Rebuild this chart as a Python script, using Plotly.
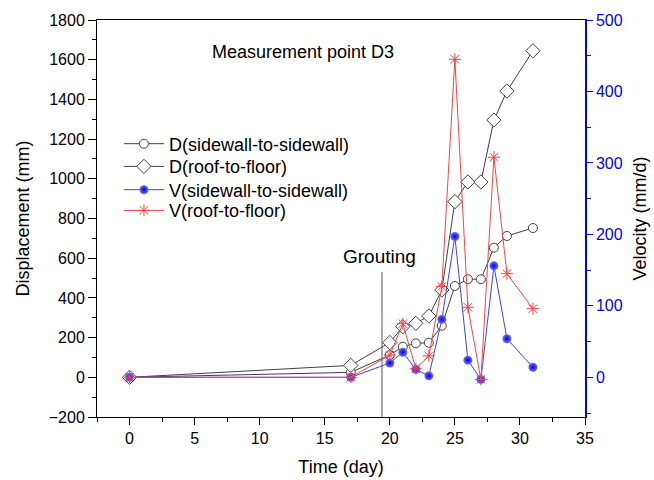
import plotly.graph_objects as go

days = [0, 17, 20, 21, 22, 23, 24, 25, 26, 27, 28, 29, 31]
d_sidewall = [0, 25, 112, 154, 171, 174, 260, 460, 494, 494, 653, 712, 752]
d_roof = [0, 60, 175, 255, 272, 309, 440, 885, 984, 984, 1296, 1442, 1645]
v_sidewall = [0, 0, 20, 35, 11, 2, 81, 197, 24, -3, 156, 54, 14]
v_roof = [0, 0, 31, 75, 12, 30, 127, 445, 98, -3, 308, 145, 96]

names = ["D(sidewall-to-sidewall)", "D(roof-to-floor)",
         "V(sidewall-to-sidewall)", "V(roof-to-floor)"]
grouting_day = 19.4
grouting_top = 530

FONT = "Liberation Sans, Arial, sans-serif"
GREY = "#404040"

fig = go.Figure()
fig.add_trace(go.Scatter(
    x=days, y=d_sidewall, name=names[0], mode="lines+markers", legend="legend",
    line=dict(color=GREY, width=1),
    marker=dict(symbol="circle", size=9, color="white",
                line=dict(color=GREY, width=1))))
fig.add_trace(go.Scatter(
    x=days, y=d_roof, name=names[1], mode="lines+markers", legend="legend2",
    line=dict(color=GREY, width=1),
    marker=dict(symbol="diamond", size=11, color="white",
                line=dict(color=GREY, width=1))))
fig.add_trace(go.Scatter(
    x=days, y=v_sidewall, name=names[2], mode="lines+markers", yaxis="y2",
    legend="legend3",
    line=dict(color="#4040ff", width=1),
    marker=dict(symbol="circle", size=9, color="#7070ff",
                gradient=dict(type="radial", color="#0000e0"),
                line=dict(width=0))))
fig.add_trace(go.Scatter(
    x=days, y=v_roof, name=names[3], mode="lines+markers", yaxis="y2",
    legend="legend4",
    line=dict(color="#ff4040", width=1),
    marker=dict(symbol="asterisk-open", size=10,
                line=dict(color="#ff0000", width=1))))

fig.add_shape(type="line", xref="x", yref="y",
              x0=grouting_day, x1=grouting_day, y0=-200, y1=grouting_top,
              line=dict(color="#555555", width=1))
fig.add_annotation(x=19.2, y=611, xref="x", yref="y", text="Grouting",
                   showarrow=False, font=dict(family=FONT, size=19, color="black"))
fig.add_annotation(x=13.3, y=1639, xref="x", yref="y", text="Measurement point D3",
                   showarrow=False, font=dict(family=FONT, size=18, color="black"))


def leg(y):
    return dict(x=0.045, y=y, xanchor="left", yanchor="middle",
                bgcolor="rgba(0,0,0,0)", font=dict(size=18), itemwidth=40)


fig.update_layout(
    width=654, height=480,
    margin=dict(l=97, r=69, t=20, b=63, autoexpand=False),
    paper_bgcolor="white", plot_bgcolor="white",
    font=dict(family=FONT, size=16, color="black"),
    showlegend=True,
    legend=leg(0.6877), legend2=leg(0.6305), legend3=leg(0.5718), legend4=leg(0.5196),
    xaxis=dict(range=[-2.5, 35], tickmode="linear", tick0=0, dtick=5,
               ticks="outside", ticklen=7, tickcolor="black", automargin=False,
               showline=True, linecolor="black", linewidth=1, mirror=True,
               showgrid=False, zeroline=False,
               minor=dict(dtick=2.5, tick0=0, ticks="outside", ticklen=4,
                          tickcolor="black"),
               title=dict(text="Time (day)", font=dict(size=18), standoff=14)),
    xaxis2=dict(range=[-2.5, 35], overlaying="x", side="top", anchor="y",
                tickmode="linear", tick0=0, dtick=5, ticks="inside", ticklen=7,
                tickcolor="black", showticklabels=False, showline=False,
                showgrid=False, zeroline=False, automargin=False,
                minor=dict(dtick=2.5, tick0=0, ticks="inside", ticklen=7,
                           tickcolor="black")),
    yaxis=dict(range=[-200, 1800], tickmode="linear", tick0=0, dtick=200,
               ticks="outside", ticklen=8, tickcolor="black", automargin=False,
               showline=True, linecolor="black", linewidth=1,
               showgrid=False, zeroline=False,
               minor=dict(dtick=100, ticks="outside", ticklen=4, tickcolor="black"),
               title=dict(text="Displacement (mm)", font=dict(size=18), standoff=14)),
    yaxis2=dict(range=[-55.56, 500], overlaying="y", side="right",
                tickmode="linear", tick0=0, dtick=100, automargin=False,
                ticks="outside", ticklen=6, tickcolor="blue",
                showline=True, linecolor="blue", linewidth=1.5,
                showgrid=False, zeroline=False,
                tickfont=dict(color="blue"),
                minor=dict(dtick=50, ticks="outside", ticklen=4, tickcolor="blue"),
                title=dict(text="Velocity (mm/d)", font=dict(size=18, color="black"),
                           standoff=12)),
)

fig.write_html("out.html")
